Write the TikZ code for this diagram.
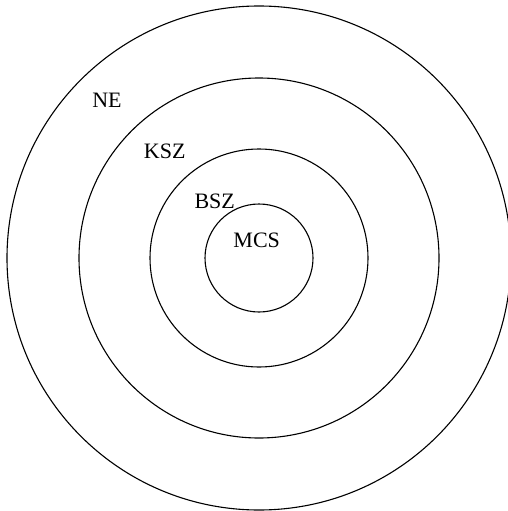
\documentclass[tikz,border=0pt]{standalone}
\usepackage{fontspec}
\setmainfont{Liberation Serif}
\begin{document}
\begin{tikzpicture}[x=1pt,y=-1pt,
  ring/.style={draw=black,line width=1.1pt},
  lbl/.style={inner sep=0pt,font=\fontsize{22}{26}\selectfont}]
\useasboundingbox (0,0) rectangle (508,511);
\coordinate (c) at (259,258);
\draw[ring] (c) circle[radius=252];
\draw[ring] (c) circle[radius=180];
\draw[ring] (c) circle[radius=109];
\draw[ring] (c) circle[radius=54];
\node[lbl] (ne) at (107,100.5) {NE};
\node[lbl] (ksz) at (164.7,151.3) {KSZ};
\node[lbl] (bsz) at (214.7,201.5) {BSZ};
\node[lbl] (mcs) at (256.7,240) {MCS};
\end{tikzpicture}
\end{document}
